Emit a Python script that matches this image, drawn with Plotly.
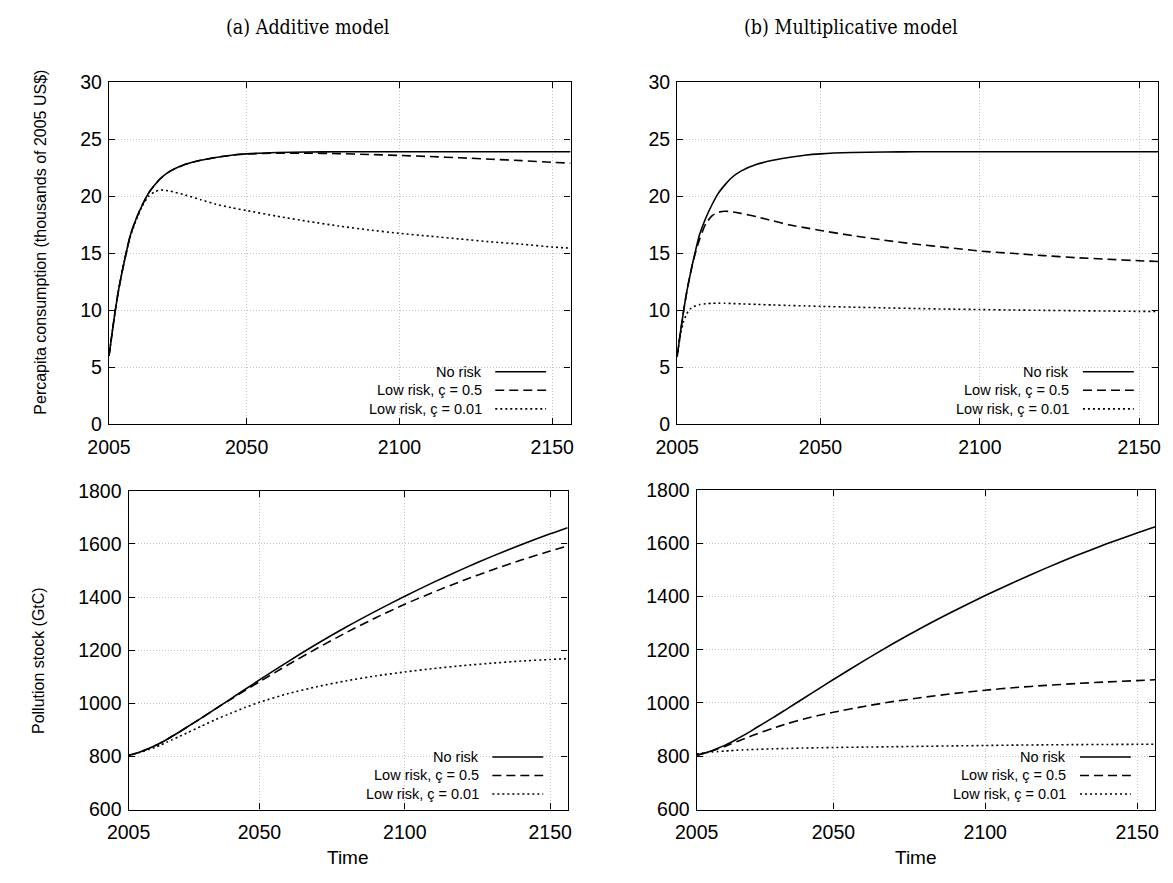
import plotly.graph_objects as go

# ---------------- data ----------------
years = [2005, 2006, 2007, 2008, 2009, 2010, 2012, 2014, 2016, 2018, 2020, 2022, 2025,
         2030, 2035, 2040, 2045, 2050, 2060, 2070, 2080, 2090, 2100, 2110, 2120, 2130,
         2140, 2150, 2156]

# (a) additive model - per capita consumption (thousands of 2005 US$)
cons_add_norisk = [6.0, 8.0, 9.9, 11.6, 13.0, 14.3, 16.6, 18.1, 19.3, 20.3, 21.0, 21.6, 22.2,
                   22.8, 23.15, 23.4, 23.6, 23.72, 23.83, 23.88, 23.9, 23.9, 23.9, 23.9, 23.9, 23.9,
                   23.9, 23.9, 23.9]
cons_add_c05 = [6.0, 8.0, 9.9, 11.6, 13.0, 14.3, 16.6, 18.1, 19.3, 20.3, 21.0, 21.6, 22.2,
                22.8, 23.15, 23.4, 23.6, 23.7, 23.78, 23.78, 23.74, 23.66, 23.58, 23.48, 23.37, 23.25,
                23.12, 22.98, 22.9]
cons_add_c001 = [6.0, 8.0, 9.9, 11.6, 13.0, 14.3, 16.5, 18.0, 19.2, 20.0, 20.4, 20.55, 20.45,
                 20.1, 19.7, 19.3, 19.0, 18.75, 18.25, 17.8, 17.4, 17.05, 16.75, 16.5, 16.25, 16.0,
                 15.8, 15.55, 15.45]

# (b) multiplicative model - per capita consumption
cons_mul_norisk = [6.0, 8.0, 9.9, 11.6, 13.0, 14.3, 16.6, 18.1, 19.3, 20.3, 21.0, 21.6, 22.2,
                   22.8, 23.15, 23.4, 23.6, 23.72, 23.83, 23.88, 23.9, 23.9, 23.9, 23.9, 23.9, 23.9,
                   23.9, 23.9, 23.9]
cons_mul_c05 = [6.0, 8.0, 9.9, 11.6, 13.0, 14.3, 16.2, 17.6, 18.3, 18.6, 18.68, 18.65, 18.5,
                18.2, 17.85, 17.5, 17.25, 17.0, 16.55, 16.15, 15.8, 15.5, 15.2, 15.0, 14.8, 14.62,
                14.48, 14.35, 14.28]
cons_mul_c001 = [5.9, 7.8, 9.0, 9.7, 10.1, 10.3, 10.5, 10.58, 10.62, 10.63, 10.62, 10.6, 10.57,
                 10.52, 10.47, 10.43, 10.39, 10.35, 10.28, 10.22, 10.16, 10.11, 10.07, 10.03, 10.0, 9.97,
                 9.94, 9.91, 9.9]

# pollution stock (GtC)
poll_add_norisk = [805, 807, 810, 813, 817, 821, 830, 840, 851, 863, 876, 889, 910,
                   944, 980, 1016, 1052, 1088, 1158, 1225, 1288, 1347, 1403, 1456, 1506, 1553,
                   1597, 1638, 1661]
poll_add_c05 = [805, 807, 810, 813, 817, 821, 830, 840, 851, 863, 876, 889, 910,
                944, 980, 1014, 1048, 1081, 1146, 1208, 1267, 1322, 1373, 1419, 1462, 1502,
                1539, 1573, 1592]
poll_add_c001 = [805, 807, 810, 813, 816, 819, 826, 834, 843, 853, 863, 873, 888,
                 914, 939, 962, 984, 1004, 1037, 1063, 1085, 1103, 1118, 1131, 1142, 1151,
                 1159, 1165, 1168]
poll_mul_norisk = [805, 807, 810, 813, 817, 821, 830, 840, 851, 863, 876, 889, 910,
                   944, 980, 1016, 1052, 1088, 1158, 1225, 1288, 1347, 1403, 1456, 1506, 1553,
                   1597, 1638, 1661]
poll_mul_c05 = [805, 807, 810, 813, 816, 820, 828, 836, 845, 854, 863, 872, 885,
                905, 923, 939, 953, 965, 987, 1006, 1022, 1036, 1048, 1058, 1066, 1073,
                1079, 1084, 1087]
poll_mul_c001 = [808, 810, 812, 813, 815, 816, 818, 819.5, 821, 822.5, 824, 825, 826,
                 828, 829.5, 831, 832, 833, 834.5, 836, 837.5, 839, 840.5, 842, 843, 843.8,
                 844.4, 845, 845.3]

series_names = ["No risk", "Low risk, ç = 0.5", "Low risk, ç = 0.01"]
x_ticks = [2005, 2050, 2100, 2150]
cons_ticks = [0, 5, 10, 15, 20, 25, 30]
poll_ticks = [600, 800, 1000, 1200, 1400, 1600, 1800]

# ---------------- layout helpers ----------------
W, H = 1173, 883


def px(x):
    return x / W


def py(y):
    return 1 - y / H


# panel pixel boxes: left, right, top, bottom
panels = [
    (89, 561, 73, 424),
    (670, 1162, 73, 424),
    (109, 558, 492, 819),
    (690, 1159, 491, 819),
]
panel_data = [
    ([cons_add_norisk, cons_add_c05, cons_add_c001], [0, 30], cons_ticks),
    ([cons_mul_norisk, cons_mul_c05, cons_mul_c001], [0, 30], cons_ticks),
    ([poll_add_norisk, poll_add_c05, poll_add_c001], [600, 1800], poll_ticks),
    ([poll_mul_norisk, poll_mul_c05, poll_mul_c001], [600, 1800], poll_ticks),
]
dashes = ["solid", "9px,5px", "2px,3px"]

SANS = "Liberation Sans, Arial, sans-serif"
TICK_FONT = dict(family=SANS, size=19.5, color="black")
GRID = "#c4c4c4"

fig = go.Figure()
shapes = []
annotations = []

for i, ((l, r, t, b), (series, yr, yt)) in enumerate(zip(panels, panel_data)):
    k = "" if i == 0 else str(i + 1)
    xa, ya = "x" + k, "y" + k
    for name, vals, dash in zip(series_names, series, dashes):
        fig.add_trace(go.Scatter(
            x=years, y=vals, mode="lines", name=name, showlegend=False,
            line=dict(color="black", width=1.6, dash=dash, shape="spline", smoothing=0.6),
            xaxis=xa, yaxis=ya, hoverinfo="skip"))
    common = dict(showline=True, linecolor="black", linewidth=1.3, mirror="ticks",
                  ticks="inside", ticklen=6, tickwidth=1, tickcolor="black",
                  showgrid=True, gridcolor=GRID, griddash="1px,2px", gridwidth=1,
                  zeroline=False, tickfont=TICK_FONT)
    fig.layout["xaxis" + k] = dict(common, domain=[px(l), px(r)], range=[2005, 2156],
                                   tickmode="array", tickvals=x_ticks, anchor=ya,
                                   ticklabelstandoff=5)
    fig.layout["yaxis" + k] = dict(common, domain=[py(b), py(t)], range=yr,
                                   tickmode="array", tickvals=yt, anchor=xa,
                                   ticklabelstandoff=2)
    # gnuplot-style key in the lower right corner (opaque, hides the grid)
    shapes.append(dict(type="rect", xref="paper", yref="paper", layer="between",
                       x0=px(r - 291), x1=px(r - 2), y0=py(b - 2), y1=py(b - 67),
                       fillcolor="white", line=dict(width=0)))
    for j, (name, dash) in enumerate(zip(series_names, dashes)):
        yy = b - [54, 35, 16][j]
        annotations.append(dict(text=name, xref="paper", yref="paper", x=px(r - 89), y=py(yy),
                                xanchor="right", yanchor="middle", showarrow=False,
                                font=dict(family=SANS, size=14.5, color="black")))
        shapes.append(dict(type="line", xref="paper", yref="paper", layer="above",
                           x0=px(r - 77), x1=px(r - 25), y0=py(yy), y1=py(yy),
                           line=dict(color="black", width=1.6, dash=dash)))

# titles and axis labels
title_font = dict(family="DejaVu Serif Condensed, DejaVu Serif, serif", size=19.5, color="black")
annotations += [
    dict(text="(a) Additive model", x=px(292), y=py(17), xref="paper", yref="paper",
         showarrow=False, xanchor="center", yanchor="middle", font=title_font),
    dict(text="(b) Multiplicative model", x=px(848), y=py(17), xref="paper", yref="paper",
         showarrow=False, xanchor="center", yanchor="middle", font=title_font),
    dict(text="Percapita consumption (thousands of 2005 US$)", x=px(19), y=py(237),
         xref="paper", yref="paper", showarrow=False, textangle=-90,
         xanchor="center", yanchor="middle", font=dict(family=SANS, size=16, color="black")),
    dict(text="Pollution stock (GtC)", x=px(17), y=py(666),
         xref="paper", yref="paper", showarrow=False, textangle=-90,
         xanchor="center", yanchor="middle", font=dict(family=SANS, size=16, color="black")),
    dict(text="Time", x=px(333), y=py(868), xref="paper", yref="paper", showarrow=False,
         xanchor="center", yanchor="middle", font=dict(family=SANS, size=19, color="black")),
    dict(text="Time", x=px(914), y=py(868), xref="paper", yref="paper", showarrow=False,
         xanchor="center", yanchor="middle", font=dict(family=SANS, size=19, color="black")),
]

fig.update_layout(width=W, height=H, margin=dict(l=0, r=0, t=0, b=0),
                  paper_bgcolor="white", plot_bgcolor="white",
                  shapes=shapes, annotations=annotations, showlegend=False)

fig.write_html("out.html")
